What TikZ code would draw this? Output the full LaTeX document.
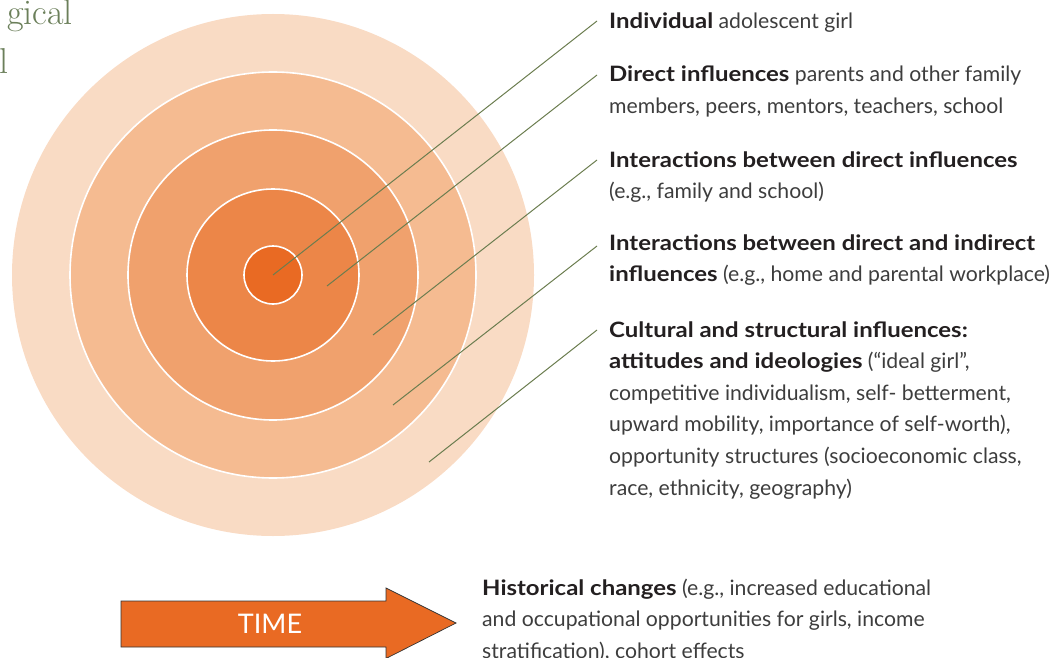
\documentclass[tikz,border=0pt]{standalone}
\usepackage{fontspec}
\setmainfont{Lato}

\definecolor{ringA}{HTML}{F9DBC4}
\definecolor{ringB}{HTML}{F5BB91}
\definecolor{ringC}{HTML}{F0A16D}
\definecolor{ringD}{HTML}{EC8648}
\definecolor{ringE}{HTML}{E96A23}
\definecolor{leader}{HTML}{6B7D4F}
\definecolor{titlegreen}{HTML}{6B7F5A}
\definecolor{headtext}{HTML}{231F20}
\definecolor{bodytext}{HTML}{3D3D3D}

\tikzset{
  ring/.style={circle, inner sep=0pt, minimum size=#1, draw=white, line width=1.6pt},
  leaderline/.style={draw=leader, line width=1pt},
  % base anchor of a multi-line node sits on its last line
  label/.style={anchor=base west, inner sep=0pt, align=left, text=bodytext,
    font=\fontsize{21.2}{31.6}\selectfont},
  titletext/.style={inner sep=0pt, text=titlegreen,
    font=\fontspec{Latin Modern Roman}\fontsize{36}{40}\selectfont},
}
\newcommand{\hd}[1]{{\bfseries\addfontfeature{FakeStretch=1.13}\color{headtext}#1}}

\begin{document}
\begin{tikzpicture}[x=1pt,y=-1pt]
\useasboundingbox (0,0) rectangle (1063,658);

% fragment of the heading
\node[titletext, anchor=base east] (titleA) at (73,25) {gical};
\node[titletext, anchor=base east] (titleB) at (9,74) {l};

% concentric rings
\node[ring=522pt, fill=ringA, draw=none] (r5) at (273,275) {};
\node[ring=406pt, fill=ringB] (r4) at (273,275) {};
\node[ring=290pt, fill=ringC] (r3) at (273,275) {};
\node[ring=172pt, fill=ringD] (r2) at (273,275) {};
\node[ring=58pt,  fill=ringE] (r1) at (273,275) {};

% labels (positioned on the baseline of their last line)
\node[label] (t1) at (609,29) {\hd{Individual} adolescent girl};
\node[label] (t2) at (609,113.6) {\hd{Direct influences} parents and other family\\members, peers, mentors, teachers, school};
\node[label] (t3) at (609,198.6) {\hd{Interactions between direct influences}\\(e.g., family and school)};
\node[label] (t4) at (609,281.6) {\hd{Interactions between direct and indirect}\\\hd{influences} (e.g., home and parental workplace)};
\node[label] (t5) at (609,495) {\hd{Cultural and structural influences:}\\\hd{attitudes and ideologies} (“ideal girl”,\\competitive individualism, self- betterment,\\upward mobility, importance of self-worth),\\opportunity structures (socioeconomic class,\\race, ethnicity, geography)};
\node[label] (t6) at (482,658.2) {\hd{Historical changes} (e.g., increased educational\\and occupational opportunities for girls, income\\stratification), cohort effects};

% leader line end points
\coordinate (a1) at (273,275);  \coordinate (b1) at (597,21);
\coordinate (a2) at (327,286);  \coordinate (b2) at (597,75);
\coordinate (a3) at (373,335);  \coordinate (b3) at (597,160);
\coordinate (a4) at (393,405);  \coordinate (b4) at (597,246);
\coordinate (a5) at (429,462);  \coordinate (b5) at (597,330);
\foreach \i in {1,...,5} { \draw[leaderline] (a\i) -- (b\i); }

% time arrow
\draw[fill=ringE, draw=black!80, line width=0.7pt, line join=miter]
  (121,601) -- (386,601) -- (386,588) -- (456,623) -- (386,658.5)
  -- (386,647) -- (121,647) -- cycle;
\node[text=white, font=\fontsize{27}{27}\selectfont, inner sep=0pt] (timelabel) at (270,624) {TIME};
\end{tikzpicture}
\end{document}
